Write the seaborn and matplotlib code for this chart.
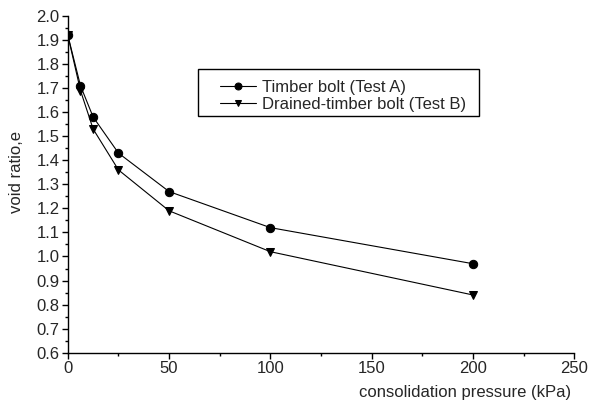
import seaborn as sns
import matplotlib.pyplot as plt
from matplotlib.patches import Rectangle
import pandas as pd

pressure = [0, 6.25, 12.5, 25, 50, 100, 200]
void_a = [1.92, 1.71, 1.58, 1.43, 1.27, 1.12, 0.97]
void_b = [1.92, 1.69, 1.53, 1.36, 1.19, 1.02, 0.84]
labels = ["Timber bolt (Test A)", "Drained-timber bolt (Test B)"]

df = pd.DataFrame({
    "pressure": pressure * 2,
    "void": void_a + void_b,
    "test": [labels[0]] * len(pressure) + [labels[1]] * len(pressure),
})

sns.set_style("ticks")
plt.rcParams["font.family"] = ["Liberation Sans", "DejaVu Sans"]

fig = plt.figure(figsize=(5.95, 4.01), dpi=100)
ax = fig.add_axes([0.114, 0.1205, 0.851, 0.8395])

sns.lineplot(data=df, x="pressure", y="void", hue="test", style="test",
             markers=["o", "v"], dashes=False, palette=["black", "black"],
             linewidth=0.8, markersize=6, markeredgecolor="black", ax=ax)

ax.set_xlim(0, 250)
ax.set_ylim(0.6, 2.0)
ax.set_xticks([0, 50, 100, 150, 200, 250])
ax.set_xticks([25, 75, 125, 175, 225], minor=True)
ax.set_yticks([0.6 + 0.1 * i for i in range(15)])
ax.set_yticks([0.65 + 0.1 * i for i in range(14)], minor=True)
ax.set_yticklabels([f"{0.6 + 0.1 * i:.1f}" for i in range(15)])
ax.tick_params(axis="both", which="major", length=4, width=1, labelsize=12, color="black", pad=2)
ax.tick_params(axis="both", which="minor", length=2.5, width=1, color="black")
for s in ["left", "bottom"]:
    ax.spines[s].set_color("black")
    ax.spines[s].set_linewidth(1)
sns.despine(ax=ax)

ax.set_xlabel("consolidation pressure (kPa)", fontsize=12)
ax.set_ylabel("void ratio,e", fontsize=12)
ax.xaxis.set_label_coords(0.785, -0.097)
ax.yaxis.set_label_coords(-0.087, 0.537)

# legend without frame, box drawn separately
handles, texts = ax.get_legend_handles_labels()
leg = ax.legend(handles, texts, loc="upper left", bbox_to_anchor=(0.300, 0.811),
                fontsize=12, frameon=False, handlelength=2.2, handletextpad=0.36,
                borderpad=0, labelspacing=0.13, borderaxespad=0)
for h in leg.legend_handles:
    h.set_markersize(5)
    h.set_linewidth(0.8)
ax.add_patch(Rectangle((0.257, 0.703), 0.555, 0.1396, transform=ax.transAxes,
                       fill=False, edgecolor="black", linewidth=1, clip_on=False))

fig.savefig("out.png", dpi=100)
